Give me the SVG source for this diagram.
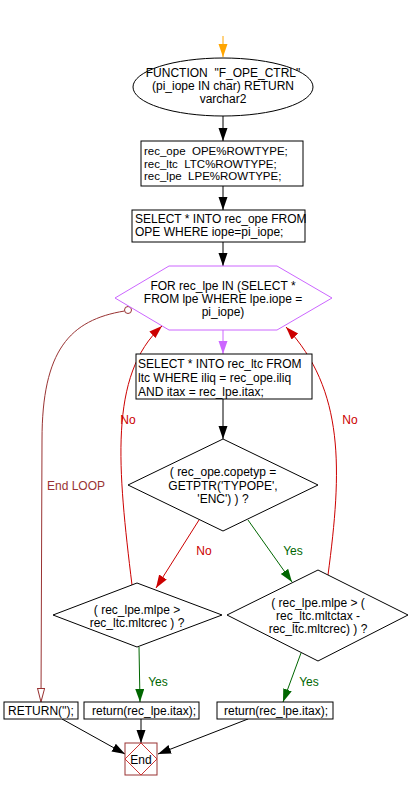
<svg xmlns="http://www.w3.org/2000/svg" width="410" height="790" viewBox="0 0 410 790">
<defs>
<style>
text{font-family:"Liberation Sans",Arial,sans-serif;font-size:12px;fill:#000}
.c{text-anchor:middle}
.pre{white-space:pre;font-size:11.5px}
.box{fill:#fff;stroke:#000;stroke-width:1}
.ln{fill:none;stroke:#000;stroke-width:1}
.red{stroke:#cc0000}
.grn{stroke:#006600}
.pur{stroke:#cc66ff}
.dr{stroke:#993333}
.org{stroke:#ffa500}
.tr{fill:#cc0000}
.tg{fill:#006600}
.td{fill:#993333}
</style>
<marker id="ab" markerUnits="userSpaceOnUse" markerWidth="14" markerHeight="10" refX="13" refY="4.5" orient="auto"><path d="M0,0 L13,4.5 L0,9 z" fill="#000"/></marker>
<marker id="ao" markerUnits="userSpaceOnUse" markerWidth="14" markerHeight="10" refX="13" refY="4.5" orient="auto"><path d="M0,0 L13,4.5 L0,9 z" fill="#ffa500"/></marker>
<marker id="ap" markerUnits="userSpaceOnUse" markerWidth="14" markerHeight="10" refX="13" refY="4.5" orient="auto"><path d="M0,0 L13,4.5 L0,9 z" fill="#cc66ff"/></marker>
<marker id="ar" markerUnits="userSpaceOnUse" markerWidth="14" markerHeight="10" refX="13" refY="4.5" orient="auto"><path d="M0,0 L13,4.5 L0,9 z" fill="#cc0000"/></marker>
<marker id="ag" markerUnits="userSpaceOnUse" markerWidth="14" markerHeight="10" refX="13" refY="4.5" orient="auto"><path d="M0,0 L13,4.5 L0,9 z" fill="#006600"/></marker>
<marker id="ah" markerUnits="userSpaceOnUse" markerWidth="16" markerHeight="10" refX="14" refY="4" orient="auto"><path d="M0.5,0.5 L14,4 L0.5,7.5 z" fill="#fff" stroke="#993333"/></marker>
</defs>
<rect width="410" height="790" fill="#fff"/>
<g id="connectors">
<line class="ln org" x1="223" y1="36" x2="223" y2="57" marker-end="url(#ao)"/>
<line class="ln" x1="223" y1="116" x2="223" y2="141" marker-end="url(#ab)"/>
<line class="ln" x1="223" y1="186" x2="223" y2="210" marker-end="url(#ab)"/>
<line class="ln" x1="223" y1="242" x2="223" y2="266" marker-end="url(#ab)"/>
<line class="ln pur" x1="223" y1="330" x2="223" y2="354" marker-end="url(#ap)"/>
<line class="ln" x1="223" y1="399" x2="223" y2="439" marker-end="url(#ab)"/>
<line class="ln red" x1="199" y1="520" x2="156" y2="588" marker-end="url(#ar)"/>
<text class="c tr" x="204" y="555">No</text>
<line class="ln grn" x1="248" y1="520" x2="292" y2="582" marker-end="url(#ag)"/>
<text class="c tg" x="293" y="555">Yes</text>
<path class="ln red" d="M132,585 C118,470 108,375 162,326" marker-end="url(#ar)"/>
<text class="c tr" x="128" y="424">No</text>
<path class="ln red" d="M328,575 C342,470 345,390 286,327" marker-end="url(#ar)"/>
<text class="c tr" x="350" y="424">No</text>
<path class="ln dr" d="M124.5,311 C70,320 42,350 42,440 L41,702" marker-end="url(#ah)"/>
<circle cx="128" cy="310" r="3.5" fill="#fff" stroke="#993333"/>
<text class="td" x="47" y="490">End LOOP</text>
<line class="ln grn" x1="139" y1="647" x2="140" y2="702" marker-end="url(#ag)"/>
<text class="c tg" x="158" y="686">Yes</text>
<line class="ln grn" x1="301" y1="653" x2="283" y2="702" marker-end="url(#ag)"/>
<text class="c tg" x="309" y="686">Yes</text>
<line class="ln" x1="62" y1="719" x2="125" y2="754" marker-end="url(#ab)"/>
<line class="ln" x1="141" y1="719" x2="141" y2="743" marker-end="url(#ab)"/>
<line class="ln" x1="248" y1="719" x2="158" y2="754" marker-end="url(#ab)"/>
</g>
<g id="start">
<ellipse class="box" cx="223" cy="87" rx="90" ry="29"/>
<text class="c pre" style="font-size:12px" x="223" y="77">FUNCTION  "F_OPE_CTRL"</text>
<text class="c" x="223" y="90">(pi_iope IN char) RETURN</text>
<text class="c" x="223" y="103">varchar2</text>
</g>
<g id="decl">
<rect class="box" x="141" y="141" width="162" height="45"/>
<text class="pre" x="144" y="155">rec_ope  OPE%ROWTYPE;</text>
<text class="pre" x="144" y="167.5">rec_ltc  LTC%ROWTYPE;</text>
<text class="pre" x="144" y="180">rec_lpe  LPE%ROWTYPE;</text>
</g>
<g id="select_ope">
<rect class="box" x="132" y="210" width="173" height="32"/>
<text x="135" y="223">SELECT * INTO rec_ope FROM</text>
<text x="135" y="236">OPE WHERE iope=pi_iope;</text>
</g>
<g id="loop">
<polygon points="169,266 277,266 332,298 277,330 169,330 115,298" fill="#fff" stroke="#cc66ff"/>
<text class="c" x="223" y="290">FOR rec_lpe IN (SELECT *</text>
<text class="c" x="223" y="303">FROM lpe WHERE lpe.iope =</text>
<text class="c" x="223" y="316">pi_iope)</text>
</g>
<g id="select_ltc">
<rect class="box" x="136" y="354" width="176" height="45"/>
<text x="138" y="368">SELECT * INTO rec_ltc FROM</text>
<text x="138" y="382">ltc WHERE iliq = rec_ope.iliq</text>
<text x="138" y="396">AND itax = rec_lpe.itax;</text>
</g>
<g id="cond1">
<polygon class="box" points="223,439 318,485 223,531 128,485"/>
<text class="c" x="223" y="476">( rec_ope.copetyp =</text>
<text class="c" x="223" y="490">GETPTR('TYPOPE',</text>
<text class="c" x="223" y="503">'ENC') ) ?</text>
</g>
<g id="cond2">
<polygon class="box" points="137,583 222,615 137,647 53,615"/>
<text class="c" x="137" y="614">( rec_lpe.mlpe &gt;</text>
<text class="c" x="137" y="627">rec_ltc.mltcrec ) ?</text>
</g>
<g id="cond3">
<polygon class="box" points="318,570 408,615 318,661 227,615"/>
<text class="c" x="318" y="607">( rec_lpe.mlpe &gt; (</text>
<text class="c" x="318" y="620">rec_ltc.mltctax -</text>
<text class="c" x="318" y="633">rec_ltc.mltcrec) ) ?</text>
</g>
<g id="ret_empty">
<rect class="box" x="4" y="702" width="74" height="17"/>
<text class="c" x="41" y="715">RETURN('');</text>
</g>
<g id="ret_left">
<rect class="box" x="84" y="702" width="115" height="17"/>
<text x="92" y="715">return(rec_lpe.itax);</text>
</g>
<g id="ret_right">
<rect class="box" x="217" y="702" width="116" height="17"/>
<text x="224" y="715">return(rec_lpe.itax);</text>
</g>
<g id="end">
<rect x="125" y="743" width="32" height="32" fill="#fff" stroke="#993333"/>
<polygon points="141,743 157,759 141,775 125,759" fill="none" stroke="#cc3333"/>
<text class="c" x="141" y="764">End</text>
</g>
</svg>
